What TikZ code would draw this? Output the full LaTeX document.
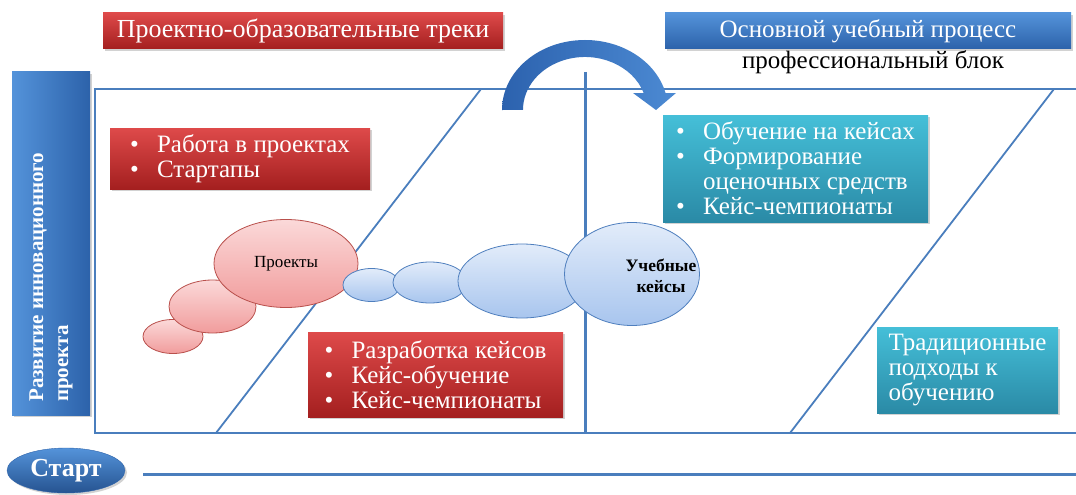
\documentclass[tikz,border=0pt]{standalone}
\usepackage{fontspec}
\setmainfont{Liberation Serif}
\usetikzlibrary{shadows,shapes.geometric}
\definecolor{framec}{HTML}{4A7EBD}
\definecolor{redtop}{HTML}{DE4A4A}
\definecolor{redbot}{HTML}{A41F1F}
\definecolor{bluetop}{HTML}{5493DA}
\definecolor{bluebot}{HTML}{2C62AA}
\definecolor{tealtop}{HTML}{45BFD8}
\definecolor{tealbot}{HTML}{2A8AA6}
\definecolor{pinktop}{HTML}{FBD9D9}
\definecolor{pinkbot}{HTML}{F19C9C}
\definecolor{pinkline}{HTML}{B9504C}
\definecolor{ltop}{HTML}{E2ECFA}
\definecolor{lbot}{HTML}{A8C5EE}
\definecolor{lline}{HTML}{4F7FBE}
\definecolor{arrowl}{HTML}{2C62AE}
\definecolor{arrowr}{HTML}{4C8AD3}
\newcommand{\boxfont}{\fontsize{25}{25}\selectfont}
\newcommand{\bitem}[1]{\makebox[27pt][l]{\textbullet}#1}
\tikzset{
  shadowed/.style={drop shadow={opacity=0.35,shadow xshift=2pt,shadow yshift=-2pt}},
  panel/.style={rectangle,inner sep=0pt,text=white,align=left,font=\boxfont,shadowed},
  redbox/.style={panel,top color=redtop,bottom color=redbot},
  bluebox/.style={panel,top color=bluetop,bottom color=bluebot},
  tealbox/.style={panel,top color=tealtop,bottom color=tealbot},
  pinkell/.style={ellipse,inner sep=0pt,draw=pinkline,line width=0.8pt,top color=pinktop,bottom color=pinkbot},
  blueell/.style={ellipse,inner sep=0pt,draw=lline,line width=0.8pt,top color=ltop,bottom color=lbot},
  frameline/.style={draw=framec,line width=1.8pt},
  thickline/.style={draw=framec,line width=3pt},
}
\begin{document}
\begin{tikzpicture}[x=1pt,y=-1pt]
\useasboundingbox[fill=white] (0,0) rectangle (1076,495);
% frame
\coordinate (ftl) at (95,89);
\coordinate (fbl) at (95,433);
\coordinate (ftr) at (1076,89);
\coordinate (fbr) at (1076,433);
\draw[frameline] (ftr) -- (ftl) -- (fbl) -- (fbr);
\coordinate (d1b) at (216,433);
\coordinate (d1t) at (481,89);
\coordinate (d2b) at (790,433);
\coordinate (d2t) at (1054,89);
\draw[frameline] (d1b) -- (d1t);
\draw[frameline] (d2b) -- (d2t);
\coordinate (vt) at (585,72);
\coordinate (vb) at (585,433);
\draw[thickline] (vt) -- (vb);
\coordinate (hl) at (143,474);
\coordinate (hr) at (1076,474);
\draw[thickline] (hl) -- (hr);
% curved arrow
\shade[left color=arrowl,right color=arrowr]
  (502,110) arc[start angle=180,end angle=346,x radius=83,y radius=70]
  -- (676,93) -- (656,110) -- (633,93) -- (643.7,93)
  arc[start angle=341.3,end angle=180,x radius=62,y radius=53] -- cycle;
% title boxes
\node[redbox,align=center,minimum width=400pt,minimum height=36pt,font=\fontsize{26}{26}\selectfont] (t1) at (303,31) {Проектно-образовательные треки};
\node[bluebox,align=center,minimum width=406pt,minimum height=36pt] (t2) at (868,31) {Основной учебный процесс};
\node[font=\boxfont,inner sep=0pt] (sub) at (873,62) {профессиональный блок};
% left vertical box
\node[bluebox,minimum width=78pt,minimum height=343pt,left color=bluetop,right color=bluebot] (lv) at (51,243.5) {};
\node[rotate=90,anchor=west,inner sep=0pt,text=white,align=left,font=\fontsize{21}{25}\selectfont\bfseries] (lvt) at (51,402) {Развитие инновационного\\проекта};
% content boxes
\node[redbox,minimum width=260pt,minimum height=61pt] (r1) at (240,158.5) {\bitem{Работа в проектах}\\\bitem{Стартапы}};
\node[tealbox,minimum width=265pt,minimum height=107pt] (c1) at (795.5,168.5) {\bitem{Обучение на кейсах}\\\bitem{Формирование}\\\hspace*{27pt}оценочных средств\\\bitem{Кейс-чемпионаты}};
\node[redbox,minimum width=255pt,minimum height=85pt] (r2) at (435.5,374.5) {\bitem{Разработка кейсов}\\\bitem{Кейс-обучение}\\\bitem{Кейс-чемпионаты}};
\node[tealbox,minimum width=181pt,minimum height=86pt] (c2) at (967.5,370) {Традиционные\\подходы к\\обучению};
% ellipses
\node[pinkell,minimum width=60pt,minimum height=34pt] (p1) at (173,336.5) {};
\node[pinkell,minimum width=87pt,minimum height=53pt] (p2) at (212.5,306.5) {};
\node[pinkell,minimum width=144pt,minimum height=88pt,font=\fontsize{17}{19}\selectfont] (p3) at (286,263.5) {Проекты};
\node[blueell,minimum width=57pt,minimum height=33pt] (b1) at (371.5,285) {};
\node[blueell,minimum width=74pt,minimum height=41pt] (b2) at (430,282.5) {};
\node[blueell,minimum width=128pt,minimum height=74pt] (b3) at (522,281) {};
\node[blueell,minimum width=135pt,minimum height=103pt] (b4) at (632,274) {};
\node[inner sep=0pt,align=center,font=\fontsize{17.5}{21}\selectfont\bfseries] (b4t) at (661,276) {Учебные\\кейсы};
% start
\node[ellipse,inner sep=0pt,minimum width=118pt,minimum height=45pt,top color=bluetop,bottom color=bluebot!85!black,draw=bluebot,shadowed,text=white,font=\fontsize{26}{28}\selectfont\bfseries] (st) at (66,470.5) {Старт};
\end{tikzpicture}
\end{document}
